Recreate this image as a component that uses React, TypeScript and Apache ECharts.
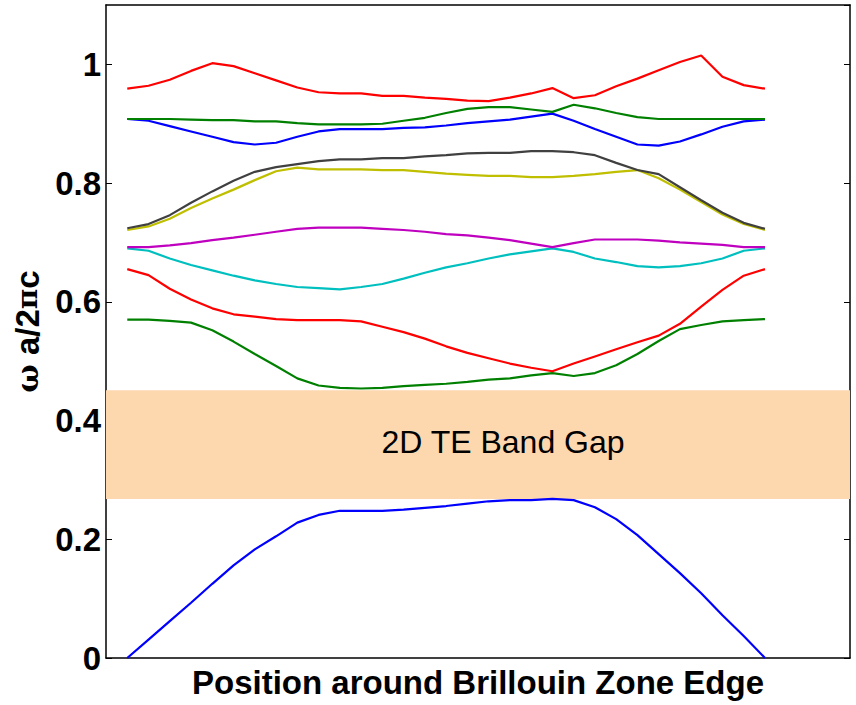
import React, { useEffect, useRef } from "react";
import * as echarts from "echarts";

// k-point index along the Brillouin zone edge path (31 samples)
const kIndex: number[] = Array.from({ length: 31 }, (_, i) => i);

const band1Blue: number[] = [0.000, 0.031, 0.062, 0.093, 0.125, 0.156, 0.183, 0.205, 0.228, 0.241, 0.248, 0.248, 0.248, 0.250, 0.253, 0.256, 0.260, 0.264, 0.266, 0.266, 0.268, 0.266, 0.254, 0.234, 0.207, 0.175, 0.143, 0.109, 0.072, 0.037, 0.000];
const band2Green: number[] = [0.570, 0.570, 0.568, 0.565, 0.552, 0.533, 0.512, 0.492, 0.471, 0.459, 0.455, 0.454, 0.455, 0.458, 0.460, 0.462, 0.465, 0.469, 0.471, 0.476, 0.480, 0.475, 0.480, 0.493, 0.512, 0.534, 0.554, 0.561, 0.567, 0.569, 0.571];
const band3Red: number[] = [0.655, 0.645, 0.622, 0.604, 0.589, 0.579, 0.575, 0.571, 0.569, 0.569, 0.569, 0.567, 0.558, 0.549, 0.538, 0.525, 0.514, 0.505, 0.496, 0.489, 0.483, 0.496, 0.508, 0.520, 0.532, 0.543, 0.563, 0.592, 0.620, 0.644, 0.655];
const band4Cyan: number[] = [0.690, 0.686, 0.673, 0.662, 0.653, 0.644, 0.636, 0.630, 0.625, 0.623, 0.621, 0.625, 0.630, 0.639, 0.649, 0.658, 0.665, 0.673, 0.680, 0.685, 0.690, 0.684, 0.673, 0.667, 0.660, 0.658, 0.660, 0.665, 0.673, 0.686, 0.690];
const band5Magenta: number[] = [0.692, 0.692, 0.695, 0.699, 0.704, 0.708, 0.713, 0.718, 0.723, 0.725, 0.725, 0.725, 0.723, 0.721, 0.718, 0.714, 0.712, 0.708, 0.704, 0.698, 0.692, 0.699, 0.705, 0.705, 0.705, 0.703, 0.700, 0.698, 0.696, 0.692, 0.692];
const band6Olive: number[] = [0.721, 0.727, 0.740, 0.758, 0.774, 0.789, 0.805, 0.820, 0.826, 0.823, 0.823, 0.823, 0.822, 0.822, 0.819, 0.816, 0.814, 0.812, 0.812, 0.810, 0.810, 0.812, 0.815, 0.819, 0.822, 0.808, 0.789, 0.768, 0.747, 0.731, 0.721];
const band7Gray: number[] = [0.724, 0.731, 0.746, 0.767, 0.786, 0.804, 0.819, 0.827, 0.832, 0.837, 0.840, 0.840, 0.842, 0.842, 0.845, 0.847, 0.850, 0.851, 0.851, 0.854, 0.854, 0.852, 0.847, 0.834, 0.822, 0.815, 0.793, 0.771, 0.750, 0.733, 0.723];
const band8Blue: number[] = [0.908, 0.905, 0.896, 0.887, 0.878, 0.869, 0.865, 0.868, 0.878, 0.887, 0.891, 0.891, 0.891, 0.893, 0.894, 0.897, 0.901, 0.904, 0.907, 0.912, 0.917, 0.905, 0.891, 0.878, 0.865, 0.863, 0.870, 0.882, 0.895, 0.904, 0.907];
const band9Green: number[] = [0.908, 0.908, 0.908, 0.907, 0.906, 0.906, 0.904, 0.904, 0.901, 0.899, 0.899, 0.899, 0.900, 0.905, 0.910, 0.918, 0.925, 0.928, 0.928, 0.924, 0.920, 0.932, 0.926, 0.918, 0.911, 0.908, 0.908, 0.908, 0.908, 0.908, 0.908];
const band10Red: number[] = [0.959, 0.964, 0.974, 0.989, 1.002, 0.997, 0.985, 0.973, 0.961, 0.953, 0.951, 0.951, 0.947, 0.947, 0.944, 0.942, 0.939, 0.938, 0.944, 0.951, 0.960, 0.943, 0.948, 0.963, 0.976, 0.990, 1.004, 1.015, 0.979, 0.965, 0.959];

const bandGap: [number, number] = [0.268, 0.451];
const bandGapLabel = "2D TE Band Gap";
const xTitle = "Position around Brillouin Zone Edge";

const bands: { data: number[]; color: string }[] = [
  { data: band1Blue, color: "#0000ff" },
  { data: band2Green, color: "#008000" },
  { data: band3Red, color: "#ff0000" },
  { data: band4Cyan, color: "#00bfbf" },
  { data: band5Magenta, color: "#bf00bf" },
  { data: band6Olive, color: "#bfbf00" },
  { data: band7Gray, color: "#404040" },
  { data: band8Blue, color: "#0000ff" },
  { data: band9Green, color: "#008000" },
  { data: band10Red, color: "#ff0000" },
];

const FONT = "'Liberation Sans', Arial, Helvetica, sans-serif";

export default function App() {
  const ref = useRef<HTMLDivElement>(null);
  useEffect(() => {
    if (!ref.current) return;
    const chart = echarts.init(ref.current, null, { renderer: "svg" });
    const lineSeries = bands.map((b, k) => ({
      type: "line",
      name: "band" + (k + 1),
      data: kIndex.map((x, i) => [x, b.data[i]]),
      showSymbol: false,
      symbol: "none",
      lineStyle: { color: b.color, width: 2.2 },
      itemStyle: { color: b.color },
      z: 2,
    }));
    const axisLine = { show: true, onZero: false, lineStyle: { color: "#000", width: 1.5 } };
    chart.setOption({
      animation: false,
      backgroundColor: "#ffffff",
      grid: { left: 106, right: 6, top: 5, bottom: 47 },
      xAxis: [
        {
          type: "value",
          min: -1,
          max: 34,
          position: "bottom",
          axisLine,
          axisTick: { show: false },
          axisLabel: { show: false },
          splitLine: { show: false },
          name: xTitle,
          nameLocation: "middle",
          nameGap: 8,
          nameTextStyle: {
            fontFamily: FONT,
            fontWeight: "bold",
            fontSize: 33,
            color: "#000",
            verticalAlign: "top",
          },
        },
        {
          type: "value",
          min: -1,
          max: 34,
          position: "top",
          axisLine,
          axisTick: { show: false },
          axisLabel: { show: false },
          splitLine: { show: false },
        },
      ],
      yAxis: [
        {
          type: "value",
          min: 0,
          max: 1.1,
          interval: 0.2,
          position: "left",
          axisLine,
          axisTick: { show: true, inside: true, length: 6, lineStyle: { color: "#000", width: 1 } },
          axisLabel: {
            show: true,
            showMaxLabel: false,
            margin: 5,
            fontFamily: FONT,
            fontWeight: "bold",
            fontSize: 33,
            color: "#000",
          },
          splitLine: { show: false },
          name: "{w|ω} {b|a/2}{p|π}{b|c}",
          nameLocation: "middle",
          nameGap: 62,
          nameRotate: 90,
          nameTextStyle: {
            fontFamily: FONT,
            fontWeight: "bold",
            fontSize: 33,
            color: "#000",
            rich: {
              w: { fontFamily: "'DejaVu Serif', serif", fontSize: 30, color: "#000" },
              b: { fontFamily: FONT, fontWeight: "bold", fontSize: 33, color: "#000" },
              p: { fontFamily: "'DejaVu Serif', serif", fontSize: 28, color: "#000" },
            },
          },
        },
        {
          type: "value",
          min: 0,
          max: 1.1,
          interval: 0.2,
          position: "right",
          axisLine,
          axisTick: { show: true, inside: true, length: 6, lineStyle: { color: "#000", width: 1 } },
          axisLabel: { show: false },
          splitLine: { show: false },
        },
      ],
      series: [
        ...lineSeries,
        {
          type: "line",
          name: "gap",
          data: [],
          z: 5,
          markArea: {
            silent: true,
            itemStyle: { color: "#fdd7ae", opacity: 1 },
            label: {
              show: true,
              position: "inside",
              offset: [25, -3],
              fontFamily: FONT,
              fontSize: 32,
              color: "#000",
            },
            data: [
              [
                { name: bandGapLabel, xAxis: -1, yAxis: bandGap[0] },
                { xAxis: 34, yAxis: bandGap[1] },
              ],
            ],
          },
        },
      ],
    } as any);
    return () => chart.dispose();
  }, []);
  return (
    <div
      ref={ref}
      style={{ position: "fixed", left: 0, top: 0, width: 856, height: 705, background: "#fff" }}
    />
  );
}
